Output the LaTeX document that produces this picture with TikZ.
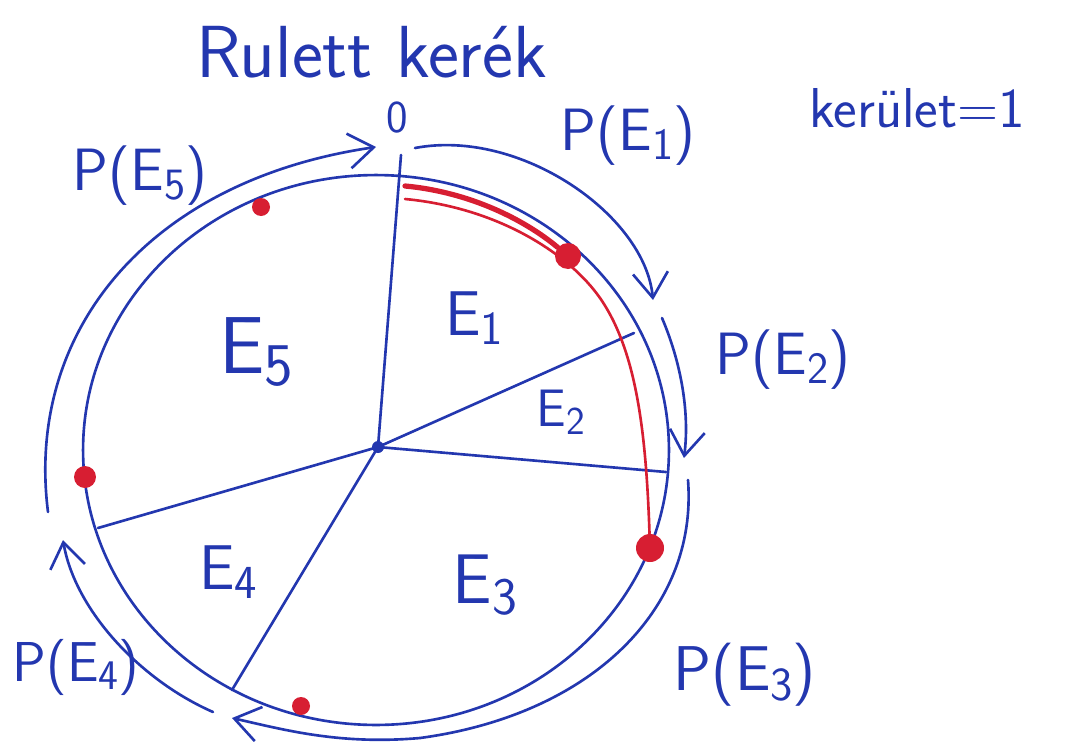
\documentclass[tikz,border=0pt]{standalone}
\usepackage{graphicx}
\usetikzlibrary{arrows.meta}
\definecolor{ink}{RGB}{35,55,175}
\definecolor{redink}{RGB}{215,30,50}
\newcommand{\sbs}[1]{\raisebox{-0.35ex}{\scalebox{0.75}{#1}}}
\newcommand{\fs}[1]{\fontsize{#1}{#1}\selectfont}
\begin{document}
\begin{tikzpicture}[x=0.02cm,y=-0.02cm,
  pen/.style={draw=ink,line width=1.5pt,line cap=round,line join=round},
  redpen/.style={draw=redink,line width=1.5pt,line cap=round,line join=round},
  arr/.style={pen,-{Straight Barb[length=5mm,width=7mm]}},
  lbl/.style={text=ink,font=\sffamily,inner sep=0pt},
  reddot/.style={circle,fill=redink,inner sep=0pt}]
\useasboundingbox (0,0) rectangle (1068,744);

% wheel
\coordinate (o) at (376,450);
\coordinate (c) at (378,447);
\draw[pen] (o) ellipse [x radius=5.86cm, y radius=5.5cm];

% spokes
\coordinate (s0) at (401,155);
\coordinate (s1) at (634,333);
\coordinate (s2) at (666,472);
\coordinate (s3) at (232,690);
\coordinate (s4) at (98,528);
\draw[pen] (c) -- (s0);
\draw[pen] (c) -- (s1);
\draw[pen] (c) -- (s2);
\draw[pen] (c) -- (s3);
\draw[pen] (c) -- (s4);
\fill[ink] (c) circle (0.12cm);

% red markings
\coordinate (r0) at (405,186);
\coordinate (r1) at (405,199);
\node[reddot,minimum size=0.52cm] (d1) at (568,256) {};
\node[reddot,minimum size=0.56cm] (d2) at (650,548) {};
\node[reddot,minimum size=0.44cm] (d3) at (85,477) {};
\node[reddot,minimum size=0.36cm] (d4) at (261,207) {};
\node[reddot,minimum size=0.36cm] (d5) at (301,706) {};
\draw[redpen,line width=3pt] (r0) .. controls (470,192) and (525,220) .. (d1);
\draw[redpen] (r1) .. controls (500,208) and (570,255) .. (600,298)
  .. controls (636,350) and (646,430) .. (d2);

% probability arcs
\coordinate (a1s) at (415,148);  \coordinate (a1e) at (653,300);
\coordinate (a2s) at (662,318);  \coordinate (a2e) at (684,458);
\coordinate (a3s) at (688,480);  \coordinate (a3m) at (420,738);
\coordinate (a3e) at (232,718);
\coordinate (a4s) at (213,712);  \coordinate (a4e) at (63,540);
\coordinate (a5s) at (48,512);   \coordinate (a5e) at (376,147);
\draw[arr] (a1s) .. controls (520,128) and (645,215) .. (a1e);
\draw[arr] (a2s) .. controls (680,360) and (690,410) .. (a2e);
\draw[pen] (a3s) .. controls (698,610) and (590,715) .. (a3m);
\draw[arr] (a3m) .. controls (340,745) and (285,730) .. (a3e);
\draw[arr] (a4s) .. controls (140,680) and (75,610) .. (a4e);
\draw[arr] (a5s) .. controls (25,330) and (150,180) .. (a5e);

% texts
\node[lbl,font=\sffamily\fs{42pt}] (title) at (372,52) {Rulett kerék};
\node[lbl,font=\sffamily\fs{32pt}] (ker) at (917,108) {kerület=1};
\node[lbl,font=\sffamily\fs{26pt}] (zero) at (397,118) {0};
\node[lbl,font=\sffamily\fs{34pt}] (p1) at (628,136) {P(E\sbs{1})};
\node[lbl,font=\sffamily\fs{34pt}] (p2) at (783,360) {P(E\sbs{2})};
\node[lbl,font=\sffamily\fs{36pt}] (p3) at (745,675) {P(E\sbs{3})};
\node[lbl,font=\sffamily\fs{32pt}] (p4) at (76,667) {P(E\sbs{4})};
\node[lbl,font=\sffamily\fs{34pt}] (p5) at (140,176) {P(E\sbs{5})};
\node[lbl,font=\sffamily\fs{36pt}] (e1) at (474,318) {E\sbs{1}};
\node[lbl,font=\sffamily\fs{30pt}] (e2) at (561,412) {E\sbs{2}};
\node[lbl,font=\sffamily\fs{40pt}] (e3) at (485,585) {E\sbs{3}};
\node[lbl,font=\sffamily\fs{36pt}] (e4) at (228,572) {E\sbs{4}};
\node[lbl,font=\sffamily\fs{46pt}] (e5) at (256,352) {E\sbs{5}};
\end{tikzpicture}
\end{document}
